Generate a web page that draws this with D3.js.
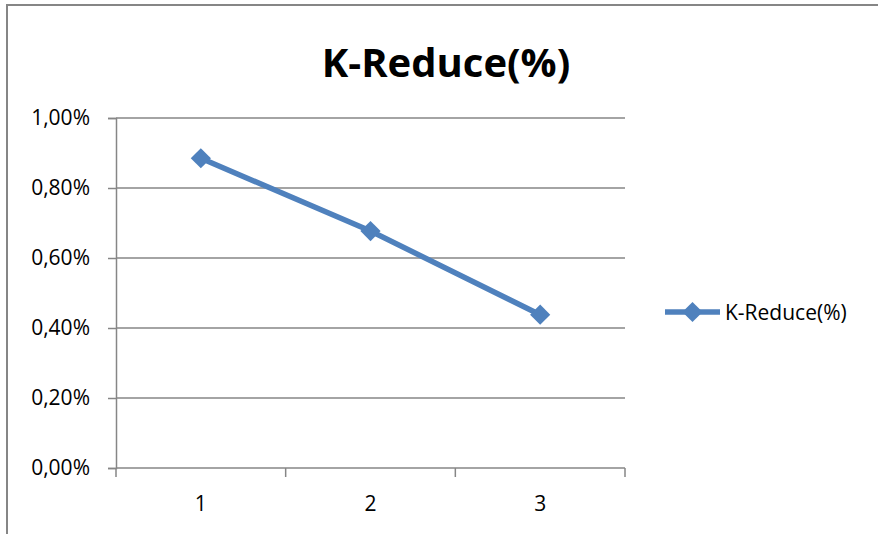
<!DOCTYPE html>
<html>
<head>
<meta charset="utf-8">
<script src="https://cdn.jsdelivr.net/npm/d3@7"></script>
<style>
  html, body { margin: 0; background: #fff; overflow: hidden; }
  svg { display: block; font-family: "Open Sans", sans-serif; }
</style>
</head>
<body>
<script>
// chart data
var categories = ["1", "2", "3"];
var kReduce = [0.00885, 0.00677, 0.00438];
var yTicks = [0, 0.002, 0.004, 0.006, 0.008, 0.01];
var seriesName = "K-Reduce(%)";

var width = 878, height = 534;
var plot = { left: 116, right: 625, top: 118, bottom: 468 };
var blue = "#4f81bd", grey = "#868686";

var svg = d3.select("body").append("svg")
  .attr("width", width)
  .attr("height", height);

// chart frame, only top and left edges are inside the picture
svg.append("path")
  .attr("d", "M7," + height + "V5H" + width)
  .attr("fill", "none")
  .attr("stroke", grey)
  .attr("stroke-width", 2);

// title
svg.append("text")
  .attr("x", 446).attr("y", 77)
  .attr("text-anchor", "middle")
  .attr("font-size", "40px")
  .attr("font-weight", "bold")
  .text(seriesName);

var x = d3.scaleBand().domain(categories).range([plot.left, plot.right]);
var y = d3.scaleLinear().domain([0, 0.01]).range([plot.bottom, plot.top]);

var pct = d3.formatLocale({ decimal: ",", thousands: ".", grouping: [3], currency: ["", ""] }).format(".2%");

// gridlines
svg.append("g").selectAll("line")
  .data(yTicks.slice(1))
  .enter().append("line")
  .attr("x1", plot.left).attr("x2", plot.right)
  .attr("y1", function (d) { return y(d); })
  .attr("y2", function (d) { return y(d); })
  .attr("stroke", grey).attr("stroke-width", 1.5);

// Y axis
var gY = svg.append("g")
  .attr("transform", "translate(" + plot.left + ",0)")
  .call(d3.axisLeft(y).tickValues(yTicks).tickFormat(pct).tickSize(8).tickPadding(18));
gY.select(".domain").attr("stroke", grey).attr("stroke-width", 1.5);
gY.selectAll(".tick line").attr("stroke", grey).attr("stroke-width", 1.5);
gY.selectAll(".tick text")
  .attr("font-size", "21px")
  .attr("font-family", "Open Sans, sans-serif")
  .attr("fill", "#000");

// X axis: ticks on band boundaries
var gX = svg.append("g")
  .attr("transform", "translate(0," + plot.bottom + ")");
gX.append("line")
  .attr("x1", plot.left).attr("x2", plot.right)
  .attr("stroke", grey).attr("stroke-width", 1.5);
var bounds = categories.map(function (c) { return x(c); }).concat([x(categories[categories.length - 1]) + x.bandwidth()]);
gX.selectAll(".bt")
  .data(bounds)
  .enter().append("line")
  .attr("class", "bt")
  .attr("x1", function (d) { return d; })
  .attr("x2", function (d) { return d; })
  .attr("y1", 0).attr("y2", 9)
  .attr("stroke", grey).attr("stroke-width", 1.5);
gX.selectAll(".lbl")
  .data(categories)
  .enter().append("text")
  .attr("class", "lbl")
  .attr("x", function (d) { return x(d) + x.bandwidth() / 2; })
  .attr("y", 43)
  .attr("text-anchor", "middle")
  .attr("font-size", "21px")
  .text(function (d) { return d; });

// series line
var line = d3.line()
  .x(function (d, i) { return x(categories[i]) + x.bandwidth() / 2; })
  .y(function (d) { return y(d); });

svg.append("path")
  .datum(kReduce)
  .attr("d", line)
  .attr("fill", "none")
  .attr("stroke", blue)
  .attr("stroke-width", 5.5);

var diamond = d3.symbol().type(d3.symbolDiamond2).size(260);
svg.selectAll(".pt")
  .data(kReduce)
  .enter().append("path")
  .attr("class", "pt")
  .attr("d", diamond)
  .attr("transform", function (d, i) {
    return "translate(" + (x(categories[i]) + x.bandwidth() / 2) + "," + y(d) + ")";
  })
  .attr("fill", blue);

// legend
var legend = svg.append("g").attr("transform", "translate(665,312)");
legend.append("line")
  .attr("x1", 0).attr("x2", 55)
  .attr("stroke", blue).attr("stroke-width", 5.5);
legend.append("path")
  .attr("d", diamond)
  .attr("transform", "translate(27.5,0)")
  .attr("fill", blue);
legend.append("text")
  .attr("x", 60).attr("y", 7.5)
  .attr("font-size", "21px")
  .text(seriesName);
</script>
</body>
</html>
